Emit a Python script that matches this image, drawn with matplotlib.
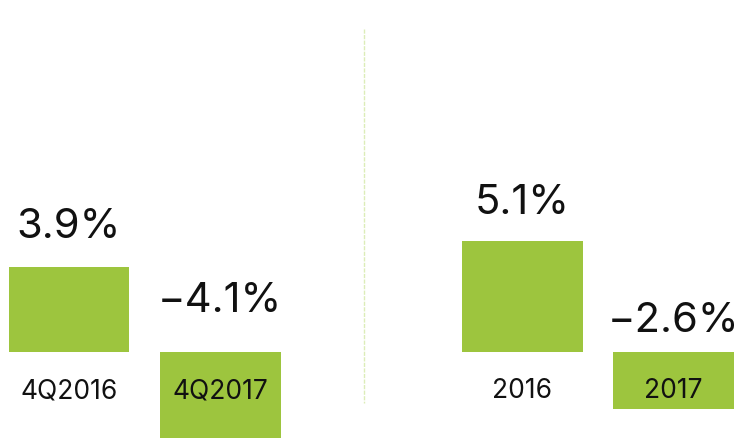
import matplotlib
matplotlib.use("Agg")
import matplotlib.pyplot as plt

categories = ["4Q2016", "4Q2017", "2016", "2017"]
values = [3.9, -4.1, 5.1, -2.6]
value_labels = ["3.9%", "\u22124.1%", "5.1%", "\u22122.6%"]
positions = [0, 1, 3, 4]

BAR_COLOR = "#9dc53e"
SEP_COLOR = "#dcedb8"
plt.rcParams['font.family'] = ['Inter', 'DejaVu Sans']

fig = plt.figure(figsize=(7.41, 4.38), dpi=100)
ax = fig.add_axes([0, 0, 1, 1])
ax.set_xlim(-0.4566, 4.447)
ax.set_ylim(-3.913, 16.087)
ax.axis("off")

ax.bar(positions, values, width=0.8, color=BAR_COLOR, zorder=2)

# value labels: baseline offsets in pixels
label_offsets = [29, 40, 27, 20]
for x, v, lab, off in zip(positions, values, value_labels, label_offsets):
    base = v if v > 0 else 0
    ax.annotate(lab, (x, base), xytext=(0, off * 0.72), textcoords="offset points",
                ha="center", va="baseline", fontsize=30, color="#111111")

# category labels just below the zero line
for x, c in zip(positions, categories):
    ax.annotate(c, (x, 0), xytext=(0, -45.7 * 0.72), textcoords="offset points",
                ha="center", va="baseline", fontsize=19, color="#111111", zorder=3)

# separator between panels
ax.plot([1.952, 1.952], [16.087 - 29 / 21.9, 16.087 - 403 / 21.9],
        color=SEP_COLOR, lw=1.0, linestyle=(0, (3, 1)), zorder=1)

fig.savefig("out.png", dpi=100)
